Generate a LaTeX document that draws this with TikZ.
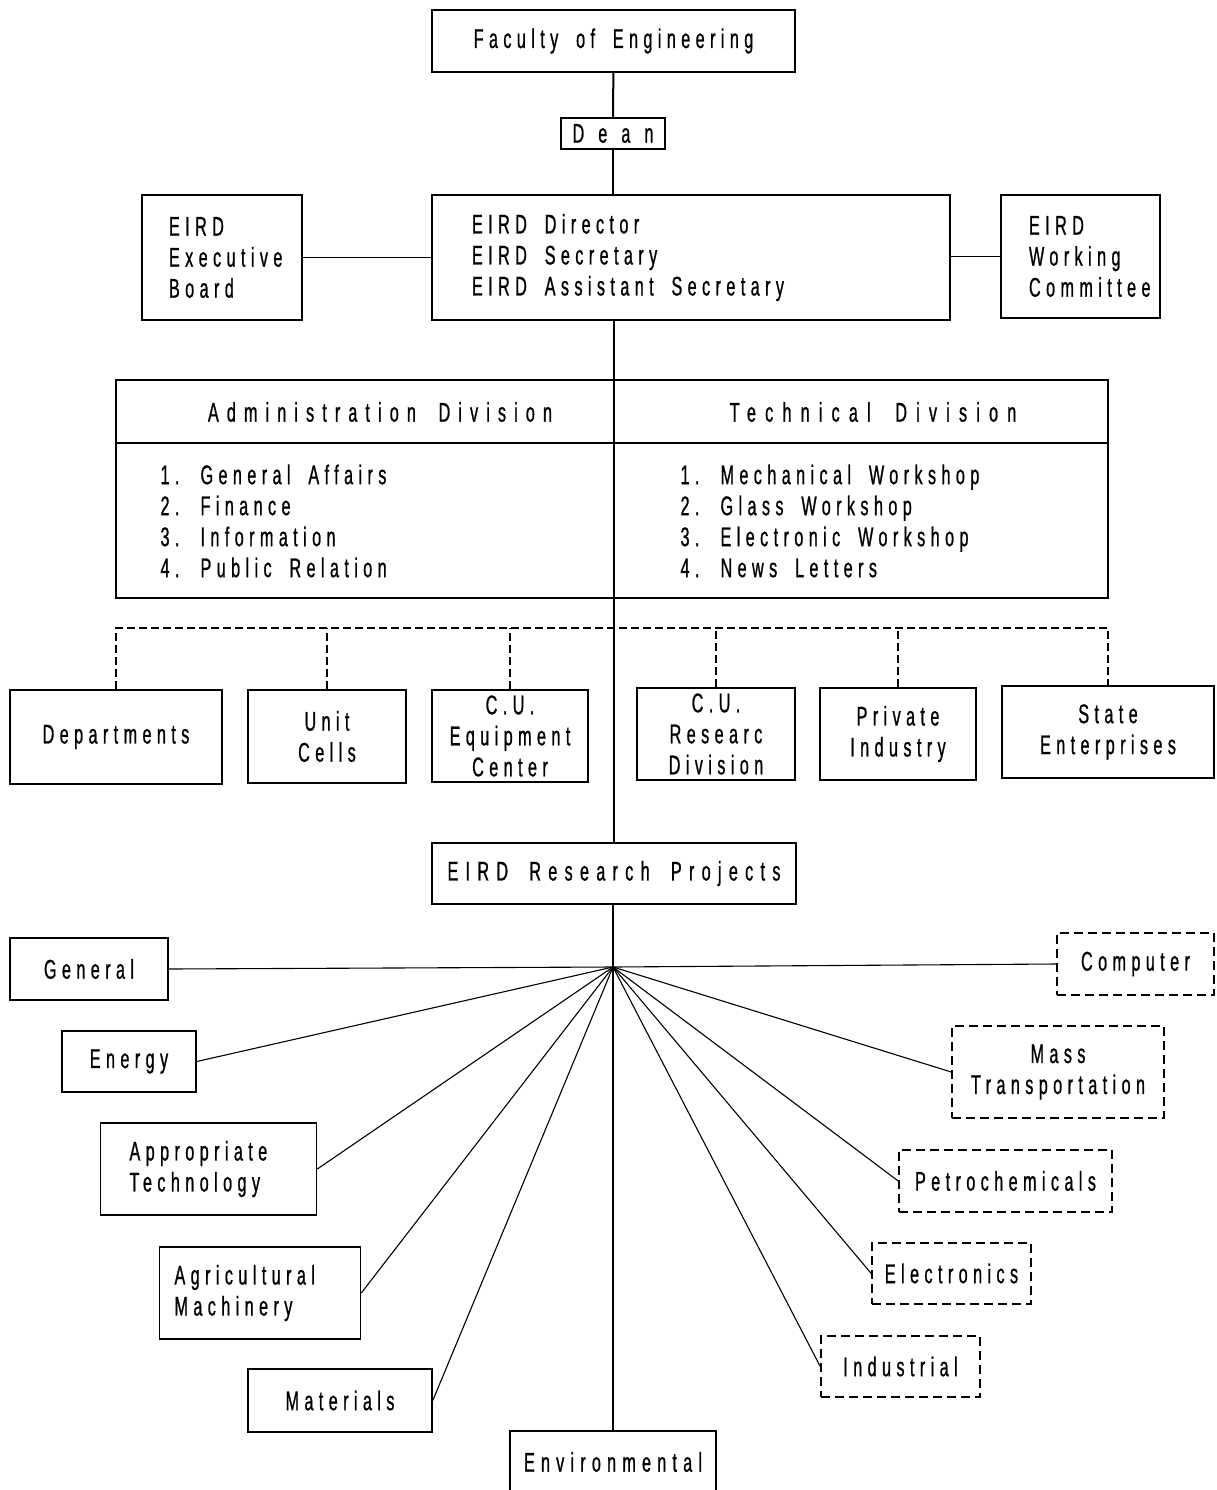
\documentclass[tikz,border=0pt]{standalone}
\usepackage{fontspec}
\setmainfont[FakeStretch=0.6,LetterSpace=20,WordSpace=1.8,FakeBold=0.8]{Liberation Sans}
\begin{document}
\begin{tikzpicture}[x=1pt,y=-1pt,
  txt/.style={font=\fontsize{27}{31}\selectfont},
  spaced/.style={font=\fontsize{27}{31}\selectfont\addfontfeature{LetterSpace=#1}},
  lft/.style={align=left,execute at begin node={\spaceskip=0pt\xspaceskip=0pt\relax}},
  box/.style={draw,line width=1.6pt,inner sep=0pt,txt},
  dbox/.style={box,dash pattern=on 9pt off 5pt,line width=1.5pt},
  link/.style={line width=1.1pt},
  trunk/.style={line width=2pt},
  dlink/.style={line width=1.3pt,dash pattern=on 8pt off 4pt}]
\useasboundingbox (0,0) rectangle (1216,1490);

% top of the hierarchy
\node[box,minimum width=363,minimum height=62] (fac) at (613.5,41) {Faculty of Engineering};
\node[box,minimum width=104,minimum height=31,spaced=52] (dean) at (613,133.5) {Dean};
\node[box,minimum width=518,minimum height=125,text width=438,inner xsep=40,lft] (dir) at (691,257.5)
  {EIRD Director\\EIRD Secretary\\EIRD Assistant Secretary};
\node[box,minimum width=160,minimum height=125,text width=106,inner xsep=27,lft] (exec) at (222,257.5)
  {EIRD\\Executive\\Board};
\node[box,minimum width=159,minimum height=123,text width=103,inner xsep=28,lft] (work) at (1080.5,256.5)
  {EIRD\\Working\\Committee};

\draw[trunk] (fac) -- (dean);
\draw[trunk] (dean.south) -- (dean.south |- dir.north);
\draw[link] (exec.east) -- (dir.west |- exec.east);
\draw[link] (dir.east |- work.west) -- (work.west);

% divisions table
\node[box,minimum width=992,minimum height=218] (div) at (612,489) {};
\draw[line width=1.6pt] (div.west |- 0,443) coordinate (hl) -- (div.east |- 0,443) coordinate (hr);
\node[spaced=30] (admhead) at (380,412) {Administration Division};
\node[spaced=34] (techhead) at (873,412) {Technical Division};
\node[txt,anchor=west,align=left] (admlist) at (157,521)
  {\makebox[40pt][l]{1.}General Affairs\\\makebox[40pt][l]{2.}Finance\\\makebox[40pt][l]{3.}Information\\\makebox[40pt][l]{4.}Public Relation};
\node[txt,anchor=west,align=left] (techlist) at (677,521)
  {\makebox[40pt][l]{1.}Mechanical Workshop\\\makebox[40pt][l]{2.}Glass Workshop\\\makebox[40pt][l]{3.}Electronic Workshop\\\makebox[40pt][l]{4.}News Letters};

% cooperating units
\node[box,minimum width=212,minimum height=94] (dept) at (116,737) {Departments};
\node[box,minimum width=158,minimum height=93,align=center] (unit) at (327,736.5) {Unit\\Cells};
\node[box,minimum width=156,minimum height=92,align=center] (equip) at (510,736) {C.U.\\Equipment\\Center};
\node[box,minimum width=158,minimum height=92,align=center] (resdiv) at (716,734) {C.U.\\Researc\\Division};
\node[box,minimum width=156,minimum height=92,align=center] (priv) at (898,734) {Private\\Industry};
\node[box,minimum width=212,minimum height=92,align=center] (state) at (1108,732) {State\\Enterprises};
\coordinate (bus) at (613,628);
\draw[dlink] (dept.north) -- (dept.north |- bus) -- (state.north |- bus) -- (state.north);
\foreach \n in {unit,equip,resdiv,priv}
  \draw[dlink] (\n.north) -- (\n.north |- bus);

% research projects
\node[box,minimum width=364,minimum height=61,spaced=27] (rp) at (614,873.5) {EIRD Research Projects};
\draw[trunk] (dir.south -| rp.north) -- (rp.north);
\coordinate (hub) at (613,967);
\node[box,minimum width=206,minimum height=62,spaced=23] (env) at (613,1462) {Environmental};
\draw[trunk] (rp.south -| hub) -- (env.north -| hub);

% project areas, left
\node[box,minimum width=158,minimum height=62] (gen) at (89,969) {General};
\node[box,minimum width=134,minimum height=61] (energy) at (129,1061.5) {Energy};
\node[box,minimum width=187,minimum height=92,text width=158,inner xsep=29,lft] (approp) at (208.5,1169) {Appropriate\\Technology};
\node[box,minimum width=186,minimum height=92,text width=171,inner xsep=15,lft] (agri) at (260,1293) {Agricultural\\Machinery};
\node[box,minimum width=184,minimum height=63] (mat) at (340,1400.5) {Materials};

% project areas, right
\node[dbox,minimum width=157,minimum height=62] (comp) at (1135.5,964) {Computer};
\node[dbox,minimum width=212,minimum height=92,align=center] (mass) at (1058,1072) {Mass\\Transportation};
\node[dbox,minimum width=213,minimum height=62] (petro) at (1005.5,1181) {Petrochemicals};
\node[dbox,minimum width=159,minimum height=61] (elec) at (951.5,1273.5) {Electronics};
\node[dbox,minimum width=159,minimum height=61] (indus) at (900.5,1366.5) {Industrial};

\foreach \n in {gen,energy,approp,agri,mat}
  \draw[link] (hub) -- (\n.east);
\foreach \n in {comp,mass,petro,elec,indus}
  \draw[link] (hub) -- (\n.west);
\end{tikzpicture}
\end{document}
